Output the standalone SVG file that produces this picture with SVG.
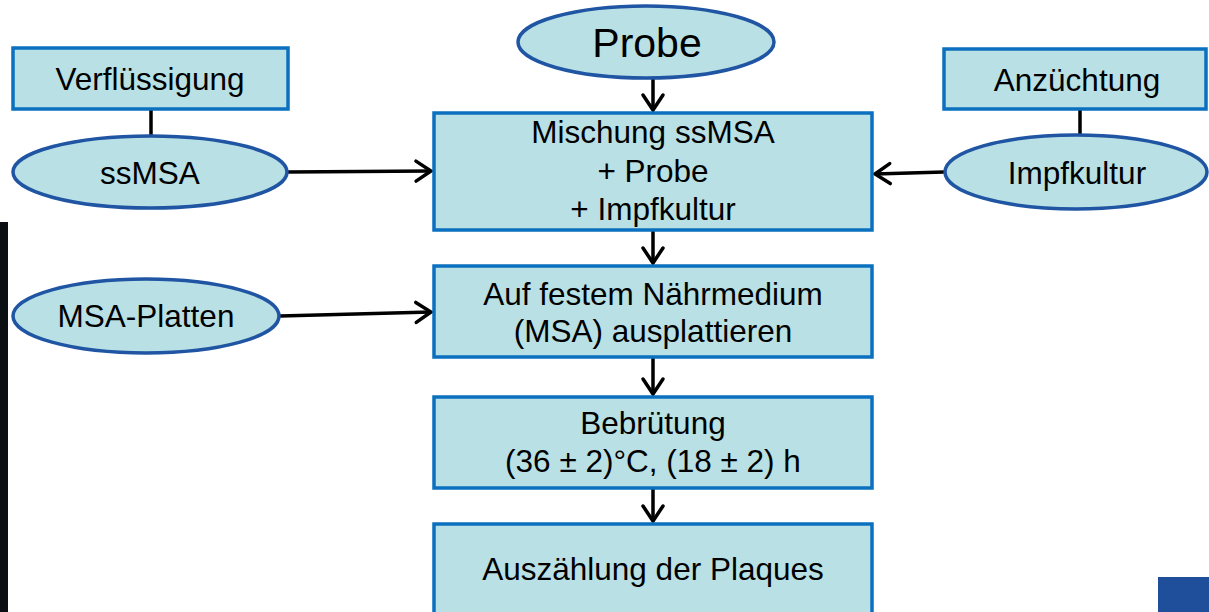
<svg xmlns="http://www.w3.org/2000/svg" width="1209" height="612" viewBox="0 0 1209 612">
<style>
.box{fill:#B9E0E4;stroke:#0A70BF;stroke-width:3.5}
.ell{fill:#B9E0E4;stroke:#1F55A3;stroke-width:3.5}
.t{font-family:"Liberation Sans",Arial,sans-serif;font-size:31.5px;fill:#000;text-anchor:middle}
.big{font-size:41px}
.c{stroke:#000;stroke-width:3.5;fill:none}
</style>
<defs>
<marker id="arr" markerUnits="userSpaceOnUse" markerWidth="30" markerHeight="30" viewBox="-20 -15 30 30" refX="0" refY="0" orient="auto">
<path d="M-15,-10 L0,0 L-15,10" fill="none" stroke="#000" stroke-width="3.5" stroke-linecap="round" stroke-linejoin="miter"/>
</marker>
</defs>
<rect width="1209" height="612" fill="#fff"/>
<rect x="0" y="222" width="8" height="390" fill="#0B0E12"/>
<rect x="1158" y="577" width="51" height="35" fill="#1F4F9B"/>
<g id="connectors">
<line class="c" x1="151" y1="109" x2="151" y2="135"/>
<line class="c" x1="1080" y1="109" x2="1080" y2="135"/>
<line class="c" x1="288" y1="172" x2="431" y2="171" marker-end="url(#arr)"/>
<line class="c" x1="944" y1="172" x2="875" y2="174" marker-end="url(#arr)"/>
<line class="c" x1="280" y1="316" x2="431" y2="312" marker-end="url(#arr)"/>
<line class="c" x1="653" y1="78" x2="653" y2="110" marker-end="url(#arr)"/>
<line class="c" x1="653" y1="230" x2="653" y2="263" marker-end="url(#arr)"/>
<line class="c" x1="653" y1="358" x2="653" y2="394" marker-end="url(#arr)"/>
<line class="c" x1="653" y1="489" x2="653" y2="521" marker-end="url(#arr)"/>
</g>
<g id="verfluessigung">
<rect class="box" x="13" y="48" width="275" height="61"/>
<text class="t" x="150" y="90">Verflüssigung</text>
</g>
<g id="ssmsa">
<ellipse class="ell" cx="150" cy="172" rx="137" ry="36"/>
<text class="t" x="150" y="184">ssMSA</text>
</g>
<g id="probe">
<ellipse class="ell" cx="646" cy="42" rx="128" ry="36"/>
<text class="t big" x="647" y="57">Probe</text>
</g>
<g id="anzuechtung">
<rect class="box" x="944" y="49" width="262" height="60"/>
<text class="t" x="1077" y="91">Anzüchtung</text>
</g>
<g id="impfkultur">
<ellipse class="ell" cx="1076" cy="172" rx="131" ry="37"/>
<text class="t" x="1077" y="184">Impfkultur</text>
</g>
<g id="mischung">
<rect class="box" x="434" y="113" width="438" height="117"/>
<text class="t" x="653" y="143">Mischung ssMSA</text>
<text class="t" x="653" y="182">+ Probe</text>
<text class="t" x="653" y="220">+ Impfkultur</text>
</g>
<g id="msaplatten">
<ellipse class="ell" cx="146" cy="316" rx="133" ry="37"/>
<text class="t" x="146" y="327">MSA-Platten</text>
</g>
<g id="ausplattieren">
<rect class="box" x="434" y="266" width="438" height="91"/>
<text class="t" x="653" y="305">Auf festem Nährmedium</text>
<text class="t" x="653" y="342">(MSA) ausplattieren</text>
</g>
<g id="bebruetung">
<rect class="box" x="434" y="397" width="438" height="91"/>
<text class="t" x="653" y="434">Bebrütung</text>
<text class="t" x="653" y="472">(36 ± 2)°C, (18 ± 2) h</text>
</g>
<g id="auszaehlung">
<rect class="box" x="434" y="524" width="438" height="100"/>
<text class="t" x="653" y="580">Auszählung der Plaques</text>
</g>
</svg>
